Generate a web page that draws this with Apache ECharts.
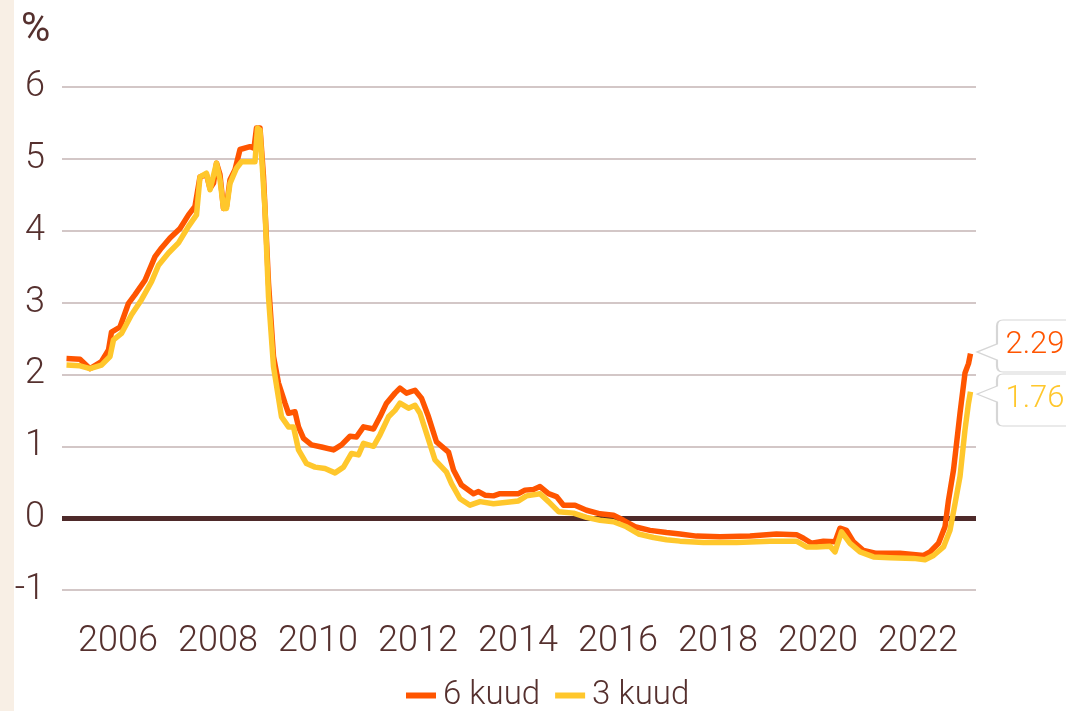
<!DOCTYPE html>
<html>
<head>
<meta charset="utf-8">
<script src="https://cdn.jsdelivr.net/npm/echarts@6/dist/echarts.min.js"></script>
<style>
html,body{margin:0;padding:0;background:#fff;}
#chart{width:1066px;height:711px;}
</style>
</head>
<body>
<div id="chart"></div>
<script>
// ---- data (decimal year positions, percent values) ----
var yearTicks = [2006, 2008, 2010, 2012, 2014, 2016, 2018, 2020, 2022];
var seriesNames = ['6 kuud', '3 kuud'];

var dates6 = [2004.97,2005.24,2005.44,2005.67,2005.81,2005.87,2006.04,2006.21,2006.34,2006.54,2006.74,2006.87,2007.04,2007.24,2007.41,2007.54,2007.64,2007.77,2007.84,2007.91,2007.97,2008.04,2008.11,2008.17,2008.24,2008.34,2008.44,2008.64,2008.72,2008.77,2008.84,2008.91,2009.01,2009.11,2009.21,2009.34,2009.41,2009.54,2009.61,2009.71,2009.87,2010.07,2010.31,2010.47,2010.64,2010.77,2010.91,2011.11,2011.24,2011.37,2011.54,2011.64,2011.77,2011.94,2012.07,2012.21,2012.37,2012.61,2012.71,2012.87,2013.11,2013.21,2013.34,2013.51,2013.64,2014.01,2014.14,2014.31,2014.44,2014.61,2014.77,2014.91,2015.14,2015.37,2015.64,2015.91,2016.11,2016.34,2016.64,2016.97,2017.24,2017.57,2018.04,2018.64,2019.17,2019.57,2019.71,2019.87,2020.11,2020.34,2020.44,2020.57,2020.71,2020.91,2021.17,2021.44,2021.64,2022.11,2022.24,2022.41,2022.54,2022.61,2022.71,2022.84,2022.94,2023.01,2023.05];
var vals6 = [2.22,2.21,2.08,2.18,2.34,2.59,2.66,2.99,3.11,3.31,3.64,3.76,3.90,4.03,4.22,4.34,4.75,4.78,4.59,4.66,4.94,4.78,4.31,4.34,4.71,4.85,5.13,5.17,5.15,5.43,5.43,4.75,3.27,2.25,1.88,1.60,1.46,1.48,1.27,1.11,1.02,0.99,0.95,1.02,1.14,1.13,1.27,1.24,1.41,1.60,1.74,1.81,1.74,1.78,1.67,1.41,1.06,0.92,0.67,0.46,0.34,0.37,0.32,0.31,0.34,0.34,0.39,0.40,0.44,0.34,0.30,0.18,0.18,0.11,0.06,0.04,-0.03,-0.12,-0.17,-0.20,-0.22,-0.25,-0.26,-0.25,-0.22,-0.23,-0.28,-0.35,-0.32,-0.33,-0.14,-0.17,-0.33,-0.45,-0.49,-0.49,-0.49,-0.52,-0.47,-0.35,-0.12,0.25,0.67,1.46,2.02,2.15,2.29];

var dates3 = [2004.97,2005.24,2005.44,2005.67,2005.84,2005.91,2006.07,2006.27,2006.47,2006.67,2006.81,2007.01,2007.21,2007.41,2007.57,2007.64,2007.77,2007.84,2007.97,2008.04,2008.11,2008.17,2008.24,2008.37,2008.47,2008.74,2008.79,2008.84,2008.94,2009.01,2009.11,2009.27,2009.41,2009.51,2009.61,2009.77,2009.94,2010.14,2010.34,2010.51,2010.67,2010.81,2010.91,2011.11,2011.24,2011.41,2011.54,2011.64,2011.81,2011.94,2012.04,2012.17,2012.34,2012.57,2012.67,2012.84,2013.04,2013.24,2013.51,2014.01,2014.17,2014.44,2014.61,2014.81,2015.11,2015.37,2015.64,2015.91,2016.17,2016.41,2016.71,2016.97,2017.24,2017.71,2018.37,2019.04,2019.57,2019.77,2019.97,2020.24,2020.34,2020.47,2020.64,2020.84,2021.11,2021.44,2021.91,2022.14,2022.31,2022.51,2022.64,2022.74,2022.84,2022.94,2023.01,2023.05];
var vals3 = [2.13,2.12,2.08,2.13,2.25,2.48,2.57,2.83,3.04,3.29,3.52,3.69,3.83,4.06,4.22,4.75,4.80,4.57,4.94,4.71,4.31,4.31,4.66,4.87,4.96,4.96,5.43,5.40,4.29,3.08,2.11,1.41,1.27,1.27,0.95,0.76,0.71,0.69,0.63,0.71,0.90,0.88,1.04,1.00,1.16,1.41,1.50,1.60,1.53,1.57,1.46,1.18,0.81,0.64,0.48,0.27,0.18,0.23,0.20,0.24,0.31,0.34,0.23,0.09,0.07,0.01,-0.03,-0.05,-0.12,-0.22,-0.27,-0.30,-0.32,-0.34,-0.34,-0.32,-0.32,-0.40,-0.40,-0.39,-0.47,-0.19,-0.35,-0.47,-0.54,-0.55,-0.56,-0.58,-0.52,-0.40,-0.17,0.20,0.58,1.23,1.60,1.76];

// ---- build ----
function pairs(xs, ys){ return xs.map(function(x,i){ return [x, ys[i]]; }); }
function calloutPath(tipY){
  var a = tipY - 8, b = tipY + 8;
  return 'path://M0 ' + tipY + ' L20 ' + a + ' L20 6 Q20 0 26 0 L104 0 Q110 0 110 6 L110 46 Q110 52 104 52 L26 52 Q20 52 20 46 L20 ' + b + ' Z';
}
var C6 = '#ff5500', C3 = '#ffc72c', TXT = '#55302e';
var FONT = 'Roboto';

function endCallout(xs, ys, color, tipY, dy){
  var n = xs.length - 1;
  return {
    silent: true,
    symbol: calloutPath(tipY),
    symbolSize: [110, 52],
    symbolKeepAspect: false,
    symbolOffset: [61.5, dy],
    itemStyle: { color: '#ffffff', borderColor: '#d6d6d6', borderWidth: 1.5 },
    label: {
      show: true, position: 'inside', offset: [3, -1],
      color: color, fontSize: 31, fontFamily: FONT, fontWeight: 300,
      formatter: function(p){ return p.value.toFixed(2); }
    },
    data: [{ coord: [xs[n], ys[n]], value: ys[n] }]
  };
}

var chart = echarts.init(document.getElementById('chart'), null, { renderer: 'canvas' });
chart.setOption({
  animation: false,
  backgroundColor: '#ffffff',
  graphic: [{ type: 'rect', left: 0, top: 0, shape: { width: 14, height: 711 }, style: { fill: '#f8efe5' }, z: 0 }],
  title: { text: '%', left: 16, top: 6, textStyle: { color: TXT, fontSize: 40, fontWeight: 400, fontFamily: FONT } },
  grid: { left: 62, right: 90, top: 87, bottom: 121 },
  legend: {
    bottom: -6, left: 401, icon: 'rect', itemWidth: 30, itemHeight: 6, itemGap: 15,
    textStyle: { color: TXT, fontSize: 33, fontWeight: 300, fontFamily: FONT, padding: [0,0,0,2] },
    data: seriesNames
  },
  xAxis: {
    type: 'value', min: 2004.88, max: 2023.16,
    axisLine: { show: false }, axisTick: { show: false }, splitLine: { show: false },
    axisLabel: {
      customValues: yearTicks, margin: 34,
      color: TXT, fontSize: 36, fontWeight: 300, fontFamily: FONT,
      formatter: function(v){ return String(v); }
    }
  },
  yAxis: {
    type: 'value', min: -1, max: 6, interval: 1,
    axisLine: { show: false }, axisTick: { show: false },
    splitLine: { lineStyle: { color: '#c5b5b5', width: 1.5 } },
    axisLabel: { margin: 17, color: TXT, fontSize: 36, fontWeight: 300, fontFamily: FONT }
  },
  series: [
    {
      name: seriesNames[0], type: 'line', data: pairs(dates6, vals6),
      showSymbol: false, symbol: 'none', color: C6,
      lineStyle: { width: 5.5, color: C6, join: 'round' },
      markLine: {
        silent: true, symbol: 'none', label: { show: false },
        lineStyle: { color: '#4e2a2a', width: 5, type: 'solid' },
        data: [{ yAxis: 0 }], z: 1
      },
      markPoint: endCallout(dates6, vals6, C6, 32, -7.6),
      z: 3
    },
    {
      name: seriesNames[1], type: 'line', data: pairs(dates3, vals3),
      showSymbol: false, symbol: 'none', color: C3,
      lineStyle: { width: 5.5, color: C3, join: 'round' },
      markPoint: endCallout(dates3, vals3, C3, 20, 8.4),
      z: 4
    }
  ]
});
</script>
</body>
</html>
